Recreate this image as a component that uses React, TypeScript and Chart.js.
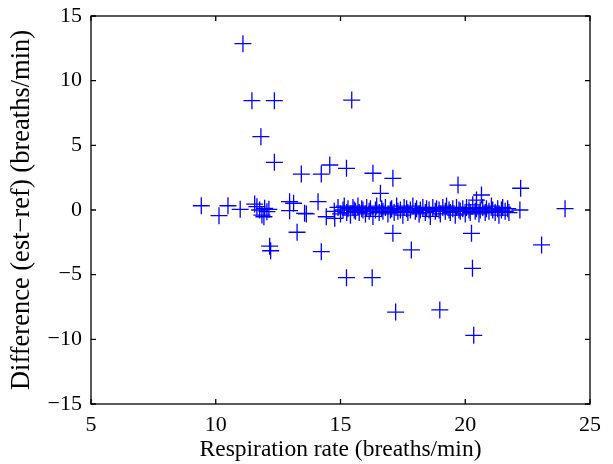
import React, { useEffect, useRef } from "react";
import { Chart, registerables } from "chart.js";

Chart.register(...registerables);

const xTicks = [5, 10, 15, 20, 25];
const yTicks = [-15, -10, -5, 0, 5, 10, 15];
const xLabel = "Respiration rate (breaths/min)";
const yLabel = "Difference (est\u2212ref) (breaths/min)";

// scattered points [rate, difference]
const spreadPoints: [number, number][] = [
  [11.09, 12.86], [11.45, 8.45], [12.35, 8.45], [15.45, 8.5], [11.81, 5.67],
  [12.35, 3.69], [13.43, 2.78], [14.23, 2.78], [14.57, 3.48], [15.24, 3.22],
  [16.3, 2.84], [17.1, 2.45], [16.6, 1.29], [19.71, 1.93], [22.22, 1.68],
  [20.65, 1.16], [20.45, 0.77], [24.0, 0.1], [22.19, 0.0],
  [9.42, 0.33], [10.13, -0.44], [10.49, 0.33], [10.98, 0.05], [11.56, 0.46],
  [11.65, 0.26], [11.76, 0.0], [11.85, -0.39], [11.96, 0.13], [12.05, -0.13],
  [12.13, 0.05], [11.93, -0.52], [12.16, -2.8], [12.2, -3.15], [12.96, 0.64],
  [13.12, 0.52], [12.96, -0.05], [13.26, -1.72], [13.56, -0.26], [14.1, 0.64],
  [13.63, -0.3], [14.43, -0.52], [14.77, -0.64], [17.1, -1.8], [17.84, -3.09],
  [14.23, -3.22], [20.25, -1.8], [23.06, -2.7], [15.24, -5.23], [16.27, -5.23],
  [20.29, -4.51], [17.21, -7.89], [18.98, -7.73], [20.34, -9.69],
];

// dense band near zero [rate, difference]
const bandPoints: [number, number][] = [
  [14.75, -0.1], [14.9, 0.2], [15.0, -0.3], [15.1, 0.0], [15.15, 0.3],
  [15.25, -0.2], [15.3, 0.1], [15.4, -0.4], [15.5, 0.2], [15.55, 0.0],
  [15.6, -0.1], [15.7, 0.3], [15.75, -0.2], [15.85, 0.1], [15.9, 0.0],
  [16.0, -0.3], [16.05, 0.2], [16.15, -0.1], [16.2, 0.1], [16.3, -0.5],
  [16.4, 0.0], [16.45, 0.3], [16.55, -0.2], [16.65, 0.1], [16.7, -0.1],
  [16.8, 0.2], [16.9, -0.3], [17.0, 0.0], [17.05, 0.1], [17.15, -0.2],
  [17.25, 0.3], [17.3, -0.1], [17.4, 0.0], [17.5, -0.4], [17.55, 0.2],
  [17.65, 0.1], [17.7, -0.2], [17.8, 0.0], [17.9, 0.3], [18.0, -0.1],
  [18.05, 0.1], [18.15, -0.3], [18.2, 0.0], [18.3, 0.2], [18.4, -0.2],
  [18.45, 0.1], [18.55, 0.0], [18.6, -0.5], [18.7, 0.2], [18.8, -0.1],
  [18.85, 0.1], [18.95, 0.0], [19.0, -0.3], [19.1, 0.2], [19.2, -0.1],
  [19.25, 0.3], [19.35, 0.0], [19.4, -0.2], [19.5, 0.1], [19.6, -0.4],
  [19.65, 0.2], [19.75, 0.0], [19.8, -0.1], [19.9, 0.1], [20.0, -0.3],
  [20.05, 0.2], [20.15, 0.0], [20.2, -0.2], [20.3, 0.4], [20.4, -0.1],
  [20.45, 0.1], [20.55, -0.3], [20.6, 0.0], [20.7, 0.2], [20.8, -0.2],
  [20.85, 0.1], [20.95, -0.1], [21.05, 0.3], [21.1, 0.0], [21.2, -0.2],
  [21.3, 0.1], [21.35, -0.4], [21.45, 0.0], [21.5, 0.2], [21.6, -0.1],
  [21.7, 0.1], [21.75, -0.2],
];

const FONT = "'Liberation Serif', 'Times New Roman', serif";

const boxPlugin = {
  id: "matlabBox",
  afterDatasetsDraw(chart: any) {
    const { ctx, chartArea: a, scales } = chart;
    const xs = scales.x;
    const ys = scales.y;
    ctx.save();
    ctx.strokeStyle = "#000";
    ctx.lineWidth = 1.3;
    ctx.strokeRect(a.left, a.top, a.right - a.left, a.bottom - a.top);
    const L = 5;
    ctx.beginPath();
    xTicks.forEach((v) => {
      const px = xs.getPixelForValue(v);
      ctx.moveTo(px, a.bottom);
      ctx.lineTo(px, a.bottom - L);
      ctx.moveTo(px, a.top);
      ctx.lineTo(px, a.top + L);
    });
    yTicks.forEach((v) => {
      const py = ys.getPixelForValue(v);
      ctx.moveTo(a.left, py);
      ctx.lineTo(a.left + L, py);
      ctx.moveTo(a.right, py);
      ctx.lineTo(a.right - L, py);
    });
    ctx.stroke();
    ctx.restore();
  },
};

export default function App() {
  const ref = useRef<HTMLCanvasElement | null>(null);
  useEffect(() => {
    if (!ref.current) return;
    const toXY = (p: [number, number]) => ({ x: p[0], y: p[1] });
    const chart = new Chart(ref.current, {
      type: "scatter",
      data: {
        datasets: [
          {
            data: [...spreadPoints, ...bandPoints].map(toXY),
            pointStyle: "cross",
            pointRadius: 8.5,
            pointHoverRadius: 8.5,
            borderColor: "#0000ff",
            backgroundColor: "#0000ff",
            borderWidth: 1.3,
          },
        ],
      },
      options: {
        animation: false,
        responsive: false,
        events: [],
        layout: { padding: { top: 16, right: 23, left: 0, bottom: 0 } },
        plugins: { legend: { display: false }, tooltip: { enabled: false } },
        scales: {
          x: {
            type: "linear",
            min: 5,
            max: 25,
            afterBuildTicks: (s: any) => {
              s.ticks = xTicks.map((v) => ({ value: v }));
            },
            afterFit: (s: any) => {
              s.height = 60;
              s.paddingLeft = 0;
              s.paddingRight = 0;
            },
            grid: { display: false, drawTicks: false },
            border: { display: false },
            ticks: {
              color: "#000",
              font: { family: FONT, size: 22 },
              padding: 8,
              maxRotation: 0,
            },
            title: {
              display: true,
              text: xLabel,
              color: "#000",
              font: { family: FONT, size: 23.5 },
              padding: { top: 0, bottom: 0 },
            },
          },
          y: {
            type: "linear",
            min: -15,
            max: 15,
            afterBuildTicks: (s: any) => {
              s.ticks = yTicks.map((v) => ({ value: v }));
            },
            afterFit: (s: any) => {
              s.width = 91;
              s.paddingTop = 0;
              s.paddingBottom = 0;
            },
            grid: { display: false, drawTicks: false },
            border: { display: false },
            ticks: {
              color: "#000",
              font: { family: FONT, size: 22 },
              padding: 9,
              callback: (v: any) => String(v).replace("-", "\u2212"),
            },
            title: {
              display: true,
              text: yLabel,
              color: "#000",
              font: { family: FONT, size: 26.5 },
              padding: { top: 6, bottom: 0 },
            },
          },
        },
      },
      plugins: [boxPlugin],
    });
    return () => chart.destroy();
  }, []);
  return (
    <div style={{ position: "fixed", left: 0, top: 0, width: 613, height: 464, background: "#fff" }}>
      <canvas ref={ref} width={613} height={464} style={{ width: 613, height: 464 }} />
    </div>
  );
}
